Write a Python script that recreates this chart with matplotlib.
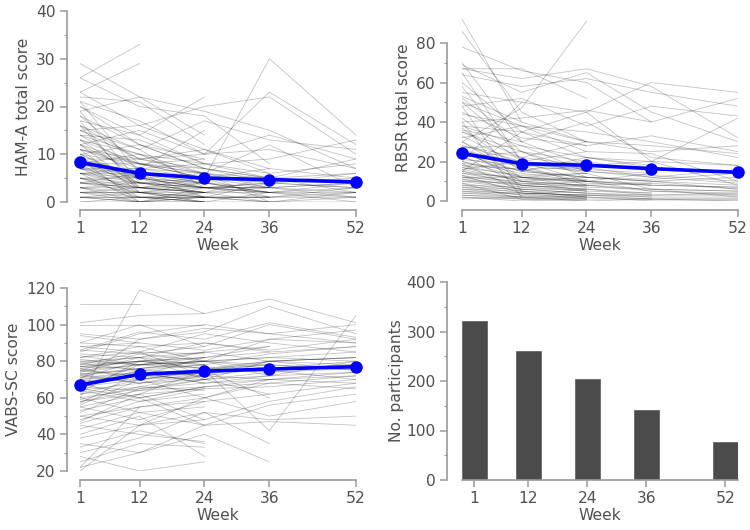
import numpy as np
import matplotlib
matplotlib.use('Agg')
import matplotlib.pyplot as plt

weeks = [1, 12, 24, 36, 52]
week_labels = ['1', '12', '24', '36', '52']

# group means (blue line)
hama_mean = [8.3, 6.0, 5.0, 4.7, 4.2]
rbsr_mean = [24.1, 18.9, 18.1, 16.4, 14.5]
vabs_mean = [67.0, 72.8, 74.5, 75.7, 77.0]

# participants with data at each visit
n_participants = [322, 260, 204, 142, 77]

# individual trajectories (None = no visit)
hama_ind = [
    [26, 33, None, None, None],
    [23, 29, None, None, None],
    [29, 22, 14, None, None],
    [26, 20, 18, 8, None],
    [23, 16, 20, 22, 10],
    [22, 21, 12, None, None],
    [21, 17, 10, 23, 12],
    [20, 12, 9, None, None],
    [19, 22, 19, 15, 7],
    [18, 8, 5, 30, 14],
    [17, 14, 22, None, None],
    [16, 11, 17, 13, 11],
    [16, 3, 4, None, None],
    [15, 16, 11, 6, None],
    [15, 9, 7, 5, 2],
    [14, 7, 15, None, None],
    [14, 13, 8, 9, 13],
    [13, 10, 4, 2, None],
    [13, 5, 6, None, None],
    [12, 15, 10, 14, 9],
    [12, 6, 3, 3, 1],
    [11, 8, 9, None, None],
    [11, 2, 1, 0, None],
    [10, 12, 7, 4, 5],
    [10, 4, 2, None, None],
    [9, 9, 6, 12, 3],
    [9, 3, 5, 1, None],
    [8, 6, 4, None, None],
    [8, 10, 8, 6, 8],
    [8, 1, 0, None, None],
    [7, 5, 3, 2, 4],
    [7, 7, 6, 0, None],
    [7, 2, 2, None, None],
    [6, 4, 5, 3, 2],
    [6, 6, 1, None, None],
    [6, 0, 3, 4, None],
    [5, 3, 2, 5, 6],
    [5, 5, 4, None, None],
    [5, 1, 1, 1, None],
    [4, 4, 3, 2, 0],
    [4, 2, 0, None, None],
    [4, 6, 5, 7, None],
    [3, 1, 2, 0, 1],
    [3, 3, 1, None, None],
    [3, 0, 0, 2, None],
    [2, 2, 3, None, None],
    [2, 1, 1, 1, 3],
    [2, 0, 2, None, None],
    [1, 1, 0, 0, 0],
    [1, 2, 1, None, None],
    [1, 0, 0, None, None],
    [0, 0, 1, 0, 2],
    [0, 1, 0, None, None],
    [19, 4, None, None, None],
    [17, 2, None, None, None],
    [21, 6, None, None, None],
    [12, 3, None, None, None],
    [9, 0, None, None, None],
    [15, 11, 3, 3, 4],
    [11, 9, 11, 7, 5],
    [10, 5, 3, 2, 2],
    [9, 6, 5, 4, 3],
    [8, 4, 3, 3, None],
    [7, 6, 4, None, None],
    [6, 3, 2, 2, 1],
    [5, 4, 3, 4, None],
    [4, 3, 2, None, None],
    [3, 2, 1, 1, 2],
    [2, 2, 0, None, None],
    [1, 0, 1, 1, None],
    [12, 8, 6, 5, 4],
    [11, 7, 5, None, None],
    [10, 8, 6, 3, None],
    [9, 5, 4, 2, 3],
    [8, 8, 7, None, None],
    [7, 4, 4, 3, 4],
    [6, 5, 3, None, None],
    [5, 2, 4, 2, None],
    [4, 3, 3, 1, 1],
    [3, 4, 2, None, None],
    [14, 10, 6, 4, 6],
    [13, 8, 5, None, None],
    [18, 12, 7, 5, None],
    [20, 14, 8, None, None],
    [16, 9, 10, 11, 7],
    [2, 3, 2, 3, None],
    [0, 0, 0, 0, 0],
    [1, 1, 1, None, None],
    [6, 7, 8, 5, 9],
    [8, 5, 1, 4, 3],
]

rbsr_ind = [
    [92, 40, None, None, None],
    [86, 45, 30, None, None],
    [78, 66, 60, 40, None],
    [70, 30, 18, None, None],
    [69, 55, 65, 45, 30],
    [67, 67, 52, None, None],
    [67, 62, 67, 58, 32],
    [64, 58, 62, 55, 48],
    [60, 35, 22, 18, None],
    [58, 20, 10, None, None],
    [55, 50, 45, 60, 55],
    [53, 40, 30, 25, 28],
    [50, 25, 15, None, None],
    [48, 52, 38, 48, 43],
    [30, 47, 91, None, None],
    [44, 38, 35, 30, 22],
    [42, 20, 25, None, None],
    [40, 42, 46, 40, 52],
    [38, 35, 28, 33, 25],
    [37, 15, 12, None, None],
    [36, 30, 40, 22, 18],
    [35, 25, 20, 15, None],
    [33, 18, 8, None, None],
    [32, 38, 25, 24, 10],
    [30, 12, 10, 8, None],
    [28, 22, 30, None, None],
    [27, 28, 15, 12, 16],
    [26, 10, 5, None, None],
    [25, 20, 18, 20, 8],
    [24, 15, 22, 17, None],
    [23, 8, 6, None, None],
    [22, 25, 12, 10, 12],
    [21, 18, 20, None, None],
    [20, 12, 14, 6, 5],
    [19, 5, 2, None, None],
    [18, 16, 10, 14, None],
    [17, 10, 8, 9, 6],
    [16, 20, 15, None, None],
    [15, 8, 10, 5, 3],
    [14, 12, 7, None, None],
    [13, 4, 3, 2, None],
    [12, 10, 12, 11, 14],
    [11, 6, 4, None, None],
    [10, 9, 8, 6, 2],
    [9, 1, 0, None, None],
    [8, 7, 5, 4, None],
    [7, 3, 6, 3, 4],
    [6, 5, 2, None, None],
    [5, 2, 3, 1, 1],
    [4, 4, 1, None, None],
    [3, 1, 2, 0, 0],
    [2, 0, 1, None, None],
    [1, 2, 0, 1, None],
    [0, 0, 0, None, None],
    [65, 20, None, None, None],
    [52, 30, None, None, None],
    [48, 5, None, None, None],
    [40, 2, None, None, None],
    [20, 50, None, None, None],
    [15, 35, 45, 20, 42],
    [22, 15, 12, 10, 8],
    [20, 14, 10, None, None],
    [18, 12, 9, 8, 7],
    [16, 10, 8, None, None],
    [15, 11, 10, 9, None],
    [14, 9, 7, 6, 5],
    [13, 8, 6, None, None],
    [12, 7, 8, 5, 4],
    [11, 8, 5, None, None],
    [10, 6, 6, 4, None],
    [9, 5, 4, 3, 3],
    [8, 4, 3, None, None],
    [7, 6, 4, 2, 2],
    [6, 3, 2, None, None],
    [5, 4, 3, 3, None],
    [4, 2, 2, 1, 1],
    [3, 2, 1, None, None],
    [26, 18, 15, 13, 10],
    [28, 20, 14, None, None],
    [30, 16, 17, 12, 9],
    [25, 12, 11, None, None],
    [24, 19, 16, 14, None],
    [35, 22, 18, None, None],
    [38, 28, 22, 20, 18],
    [45, 32, 28, None, None],
    [50, 38, 30, 28, 24],
    [19, 16, 12, 10, 6],
    [17, 13, 14, None, None],
    [12, 12, 10, 8, 7],
    [2, 1, 1, 1, 0],
]

vabs_ind = [
    [111, 111, None, None, None],
    [60, 119, 106, None, None],
    [101, 105, 106, 114, 101],
    [100, 100, 100, None, None],
    [95, 92, 96, 110, 95],
    [90, 100, 88, 100, 92],
    [88, 85, 95, 90, 85],
    [85, 95, 100, 95, 90],
    [83, 78, 82, None, None],
    [82, 88, 80, 92, 97],
    [80, 82, 90, 85, None],
    [79, 75, 78, None, None],
    [78, 85, 72, 80, 82],
    [77, 80, 85, None, None],
    [76, 70, 75, 78, 75],
    [75, 78, 80, 72, None],
    [74, 82, 70, None, None],
    [73, 76, 78, 84, 88],
    [72, 68, 74, None, None],
    [71, 80, 76, 75, 70],
    [70, 74, 68, None, None],
    [69, 72, 82, 88, None],
    [68, 60, 66, 70, 72],
    [67, 75, 72, None, None],
    [66, 64, 70, 62, None],
    [65, 78, 85, 80, 82],
    [64, 58, 62, None, None],
    [62, 70, 60, 68, 65],
    [60, 52, 55, None, None],
    [59, 66, 72, 76, 78],
    [58, 62, 48, None, None],
    [56, 70, 75, 60, None],
    [55, 48, 58, 62, 68],
    [53, 60, 45, None, None],
    [52, 65, 70, 80, 75],
    [50, 45, 52, 48, 50],
    [48, 58, 65, None, None],
    [46, 55, 60, 50, 58],
    [45, 40, 36, None, None],
    [43, 52, 45, 56, 62],
    [40, 50, 28, None, None],
    [38, 45, 48, 58, 66],
    [35, 30, 40, 25, None],
    [33, 42, 35, None, None],
    [30, 38, 52, 35, None],
    [28, 20, 25, None, None],
    [25, 35, 33, None, None],
    [22, 30, 45, 47, 45],
    [20, 45, 60, 70, 68],
    [20, 20, None, None, None],
    [22, 55, None, None, None],
    [94, 90, None, None, None],
    [86, 96, 92, 101, 93],
    [70, 92, 98, 95, 100],
    [63, 80, 76, 74, None],
    [57, 74, 68, 72, 80],
    [47, 62, 75, 42, 105],
    [80, 78, 76, 80, 78],
    [78, 80, 82, None, None],
    [77, 76, 80, 82, 85],
    [76, 80, 78, None, None],
    [75, 72, 76, 78, None],
    [74, 78, 80, 82, 80],
    [73, 75, 74, None, None],
    [72, 76, 80, 78, 76],
    [71, 74, 72, None, None],
    [70, 72, 75, 80, 82],
    [84, 82, 85, 88, None],
    [82, 85, 84, None, None],
    [81, 78, 80, 76, 80],
    [79, 82, 78, None, None],
    [77, 80, 82, 85, 88],
    [69, 70, 74, None, None],
    [68, 72, 70, 72, 74],
    [66, 70, 72, None, None],
    [64, 68, 70, 74, 76],
    [62, 66, 64, None, None],
    [60, 65, 68, 70, None],
    [58, 64, 66, 68, 72],
    [86, 84, 88, None, None],
    [88, 90, 86, 92, 90],
    [75, 84, 80, None, None],
    [73, 68, 72, 70, 74],
    [65, 60, 66, None, None],
    [55, 62, 65, 66, 70],
    [50, 55, 58, None, None],
    [90, 88, 90, 86, 92],
]

axis_grey = '#9a9a9a'
text_grey = '#505050'
fs = 11.2

plt.rcParams['font.family'] = 'DejaVu Sans'

fig = plt.figure(figsize=(7.5, 5.3), dpi=100)

W, H = 750.0, 530.0


def px_axes(x0, x1, ytop, ybot):
    return fig.add_axes([x0 / W, 1 - ybot / H, (x1 - x0) / W, (ybot - ytop) / H])


def style_axes(ax, left_off, bottom_off):
    for s in ['top', 'right']:
        ax.spines[s].set_visible(False)
    for s in ['left', 'bottom']:
        ax.spines[s].set_color(axis_grey)
        ax.spines[s].set_linewidth(1.2)
    ax.spines['left'].set_position(('outward', left_off))
    ax.spines['bottom'].set_position(('outward', bottom_off))
    ax.tick_params(which='major', color=axis_grey, length=5, width=1.1,
                   labelcolor=text_grey, labelsize=fs, pad=3)
    ax.tick_params(which='minor', color=axis_grey, length=2.5, width=0.8)
    ax.set_xlabel('Week', color=text_grey, fontsize=fs, labelpad=1)


def spaghetti(ax, data, mean, ylabel, ylim, yspan, ystep):
    for row in data:
        ax.plot(weeks, np.array(row, dtype=float), color='black', alpha=0.24, lw=0.6)
    ax.plot(weeks, mean, color='#0000ff', lw=2.6, marker='o', ms=8, clip_on=False, zorder=5)
    ax.set_xlim(1, 52)
    ax.set_ylim(*ylim)
    ax.set_xticks(weeks)
    ax.set_xticklabels(week_labels)
    ax.set_yticks(np.arange(yspan[0], yspan[1] + 1, ystep))
    ax.set_yticks(np.arange(yspan[0] + ystep / 2, yspan[1], ystep), minor=True)
    ax.spines['left'].set_bounds(*yspan)
    ax.spines['bottom'].set_bounds(1, 52)
    ax.set_ylabel(ylabel, color=text_grey, fontsize=fs)


ax1 = px_axes(80, 356, 11, 202)
style_axes(ax1, 9.4, 5.8)
spaghetti(ax1, hama_ind, hama_mean, 'HAM-A total score', (0, 40), (0, 40), 10)

ax2 = px_axes(462, 738, 13.4, 201)
style_axes(ax2, 10.8, 6.5)
spaghetti(ax2, rbsr_ind, rbsr_mean, 'RBSR total score', (0, 95), (0, 80), 20)

ax3 = px_axes(80, 356, 288, 471)
style_axes(ax3, 9.4, 6.5)
spaghetti(ax3, vabs_ind, vabs_mean, 'VABS-SC score', (20, 120), (20, 120), 20)

ax4 = px_axes(462, 737.5, 282, 480)
style_axes(ax4, 10.8, 0)
ax4.bar(weeks, n_participants, width=5, color='#4b4b4b', edgecolor='#5a5a5a', lw=0.5)
ax4.set_xlim(-1.5, 54.5)
ax4.set_ylim(0, 400)
ax4.set_xticks(weeks)
ax4.set_xticklabels(week_labels)
ax4.set_yticks([0, 100, 200, 300, 400])
ax4.set_yticks([50, 150, 250, 350], minor=True)
ax4.set_ylabel('No. participants', color=text_grey, fontsize=fs, labelpad=2)

fig.savefig('out.png', dpi=100)
